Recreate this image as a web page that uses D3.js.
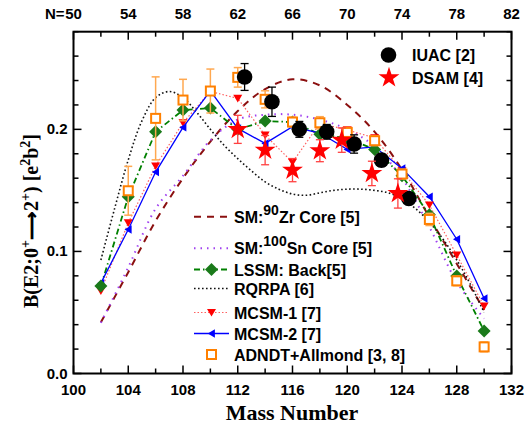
<!DOCTYPE html>
<html><head><meta charset="utf-8">
<script src="https://cdn.jsdelivr.net/npm/d3@7"></script>
<style>body{margin:0;background:#fff}svg{display:block}</style>
</head><body>
<div id="chart"></div>
<script>
// ---------------- data ----------------
const calcA = [102,104,106,108,110,112,114,116,118,120,122,124,126,128,130];
const sm90Zr  = [0.042,0.083,0.125,0.160,0.190,0.215,0.233,0.241,0.236,0.220,0.198,0.167,0.128,0.090,0.052];
const sm100Sn = [0.0415,0.087,0.135,0.162,0.191,0.208,0.212,0.212,0.208,0.200,0.186,0.160,0.120,0.075,0.045];
const lssm    = [0.0716,0.1448,0.198,0.2158,0.2175,0.200,0.2068,0.206,0.196,0.1926,0.1836,0.162,0.130,0.0798,0.0349];
const mcsm1   = [0.0677,0.1234,0.170,0.2054,0.231,0.2254,0.1953,0.173,0.205,0.1995,0.193,0.166,0.138,0.097,0.0552];
const mcsm2   = [0.074,0.118,0.165,0.2016,0.2315,0.2008,0.1885,0.2021,0.197,0.1836,0.1857,0.168,0.1448,0.110,0.0615];
const rqrpaA  = [102,103,104,105,106,107,108,109,110,111,112,113,114,115,116,117,118,119,120,121,122,123,124,125,126,127,128,129,130];
const rqrpa   = [0.093,0.135,0.175,0.207,0.226,0.231,0.226,0.214,0.200,0.187,0.176,0.166,0.157,0.151,0.147,0.146,0.148,0.150,0.151,0.151,0.150,0.148,0.143,0.135,0.124,0.110,0.093,0.073,0.050];
const adndtA   = [104,106,108,110,112,114,116,118,120,122,124,126,128,130];
const adndt    = [0.1497,0.209,0.224,0.2314,0.2426,0.2246,0.206,0.2054,0.1975,0.1907,0.1634,0.1262,0.0759,0.0218];
const adndtErr = [0.020,0.034,0.017,0.018,0.008,0.007,0.004,0.005,0.004,0.004,0.004,0.005,0.004,0.004];
const iuacA   = [112.5,114.5,116.5,118.5,120.5,122.5,124.5];
const iuac    = [0.2429,0.2226,0.200,0.198,0.188,0.1748,0.1434];
const iuacErr = [0.011,0.012,0.0065,0.006,0.0075,0.005,0.004];
const dsamA   = [112,114,116,118,119.6,121.8,123.7];
const dsam    = [0.200,0.183,0.1666,0.1825,0.1912,0.1639,0.1475];
const dsamErr = [0.0115,0.012,0.0095,0.009,0.010,0.010,0.012];
const bottomTicks = [100,104,108,112,116,120,124,128,132];
const topTickLabels = ["50","54","58","62","66","70","74","78","82"];
const yTicks = [0.0,0.1,0.2];

// ---------------- layout ----------------
const W = 529, H = 426;
const svg = d3.select("#chart").append("svg").attr("width", W).attr("height", H);
const x = d3.scaleLinear().domain([100,132]).range([73.5,511.5]);
const y = d3.scaleLinear().domain([0,0.28]).range([373.5,31.7]);
const sans = "'Liberation Sans', Arial, sans-serif";
const serif = "'Liberation Serif', 'Times New Roman', serif";

const plot = svg.append("g");

// ---------------- model lines ----------------
function calcPts(arr){ return calcA.map((a,i)=>[a,arr[i]]); }
const lineLin = d3.line().x(d=>x(d[0])).y(d=>y(d[1]));
const lineSmooth = d3.line().x(d=>x(d[0])).y(d=>y(d[1])).curve(d3.curveCatmullRom.alpha(0.5));

plot.append("path").attr("d", lineSmooth(calcPts(sm90Zr)))
  .attr("fill","none").attr("stroke","#8b1010").attr("stroke-width",2).attr("stroke-dasharray","7,6");
plot.append("path").attr("d", lineSmooth(calcPts(sm100Sn)))
  .attr("fill","none").attr("stroke","#a040f0").attr("stroke-width",2).attr("stroke-dasharray","1.5,5");
plot.append("path").attr("d", lineSmooth(rqrpaA.map((a,i)=>[a,rqrpa[i]])))
  .attr("fill","none").attr("stroke","#111").attr("stroke-width",1.6).attr("stroke-dasharray","1.6,2.4");
plot.append("path").attr("d", lineLin(calcPts(lssm)))
  .attr("fill","none").attr("stroke","#008000").attr("stroke-width",1.8).attr("stroke-dasharray","6,3,1.5,3");
plot.append("path").attr("d", lineLin(calcPts(mcsm1)))
  .attr("fill","none").attr("stroke","#ff6060").attr("stroke-width",1.2).attr("stroke-dasharray","1.5,2");
plot.append("path").attr("d", lineLin(calcPts(mcsm2)))
  .attr("fill","none").attr("stroke","#0000ff").attr("stroke-width",1.3);

// ---------------- marker shapes ----------------
const diamondPath = (s)=>`M0,${-s}L${s},0L0,${s}L${-s},0Z`;
const downTri = (s)=>`M${-s},${-s*0.8}L${s},${-s*0.8}L0,${s*0.9}Z`;
const leftTri = (s)=>`M${-s*0.9},0L${s*0.8},${-s}L${s*0.8},${s}Z`;

plot.selectAll(".m1").data(calcPts(mcsm1)).join("path")
  .attr("d", downTri(4.5)).attr("transform", d=>`translate(${x(d[0])},${y(d[1])})`)
  .attr("fill","#ff0000");
plot.selectAll(".m2").data(calcPts(mcsm2)).join("path")
  .attr("d", leftTri(4.2)).attr("transform", d=>`translate(${x(d[0])},${y(d[1])})`)
  .attr("fill","#0000ff");
plot.selectAll(".ls").data(calcPts(lssm)).join("path")
  .attr("d", diamondPath(6.5)).attr("transform", d=>`translate(${x(d[0])},${y(d[1])})`)
  .attr("fill","#1a7a1a");

function errBars(g, A, V, E, color, cap, sw){
  const data = A.map((a,i)=>({a, v:V[i], e:E[i]}));
  const gg = g.append("g").attr("stroke",color).attr("stroke-width",sw).attr("fill","none");
  gg.selectAll(".v").data(data).join("line")
    .attr("x1",d=>x(d.a)).attr("x2",d=>x(d.a)).attr("y1",d=>y(d.v-d.e)).attr("y2",d=>y(d.v+d.e));
  gg.selectAll(".t").data(data).join("line")
    .attr("x1",d=>x(d.a)-cap).attr("x2",d=>x(d.a)+cap).attr("y1",d=>y(d.v+d.e)).attr("y2",d=>y(d.v+d.e));
  gg.selectAll(".b").data(data).join("line")
    .attr("x1",d=>x(d.a)-cap).attr("x2",d=>x(d.a)+cap).attr("y1",d=>y(d.v-d.e)).attr("y2",d=>y(d.v-d.e));
}

errBars(plot, adndtA, adndt, adndtErr, "#ffa850", 4, 1.5);
plot.selectAll(".ad").data(adndtA.map((a,i)=>[a,adndt[i]])).join("rect")
  .attr("x", d=>x(d[0])-4.5).attr("y", d=>y(d[1])-4.5).attr("width",9).attr("height",9)
  .attr("fill","#fff").attr("stroke","#ff8000").attr("stroke-width",2);

errBars(plot, iuacA, iuac, iuacErr, "#000", 4, 1.3);
plot.selectAll(".iu").data(iuacA.map((a,i)=>[a,iuac[i]])).join("circle")
  .attr("cx", d=>x(d[0])).attr("cy", d=>y(d[1])).attr("r",7.8).attr("fill","#000");

errBars(plot, dsamA, dsam, dsamErr, "#ff4040", 4, 1.3);
const starSym = d3.symbol().type(d3.symbolStar).size(135);
plot.selectAll(".ds").data(dsamA.map((a,i)=>[a,dsam[i]])).join("path")
  .attr("d", starSym()).attr("transform", d=>`translate(${x(d[0])},${y(d[1])})`)
  .attr("fill","#ff0000");

// ---------------- axes ----------------
const minorX = d3.range(100,133,2);
const minorY = d3.range(0,0.2801,0.02);
const axG = svg.append("g").attr("stroke","#000").attr("stroke-width",1.5);
axG.append("rect").attr("x",x(100)).attr("y",y(0.28)).attr("width",x(132)-x(100)).attr("height",y(0)-y(0.28))
  .attr("fill","none").attr("stroke-width",2);
minorX.forEach(v=>{
  const len = (v % 4 === 0) ? 8 : 5;
  axG.append("line").attr("x1",x(v)).attr("x2",x(v)).attr("y1",y(0)).attr("y2",y(0)-len);
  axG.append("line").attr("x1",x(v)).attr("x2",x(v)).attr("y1",y(0.28)).attr("y2",y(0.28)+len);
});
minorY.forEach(v=>{
  const major = Math.abs(v*10 - Math.round(v*10)) < 1e-6;
  const len = major ? 8 : 5;
  axG.append("line").attr("x1",x(100)).attr("x2",x(100)+len).attr("y1",y(v)).attr("y2",y(v));
  axG.append("line").attr("x1",x(132)).attr("x2",x(132)-len).attr("y1",y(v)).attr("y2",y(v));
});

const tl = svg.append("g").attr("font-family",sans).attr("font-weight","bold").attr("font-size",15).attr("fill","#000");
tl.selectAll(".bx").data(bottomTicks).join("text")
  .attr("x",d=>x(d)).attr("y",395).attr("text-anchor","middle").text(d=>d);
tl.selectAll(".tx").data(bottomTicks).join("text")
  .attr("x",d=>x(d)).attr("y",19).attr("text-anchor","middle").text((d,i)=>topTickLabels[i]);
tl.append("text").attr("x",x(100)-9).attr("y",19).attr("text-anchor","end").text("N=");
tl.selectAll(".yl").data(yTicks).join("text")
  .attr("x",x(100)-6).attr("y",d=>y(d)+5).attr("text-anchor","end").text(d=>d.toFixed(1));

svg.append("text").attr("x",292).attr("y",420).attr("text-anchor","middle")
  .attr("font-family",serif).attr("font-weight","bold").attr("font-size",22).text("Mass Number");
const yt = svg.append("text").attr("transform","translate(38,221) rotate(-90)").attr("text-anchor","middle")
  .attr("font-family",serif).attr("font-weight","bold").attr("font-size",20);
yt.append("tspan").text("B(E2;0");
yt.append("tspan").attr("dy",-8).attr("font-size",14).text("+");
yt.append("tspan").attr("dy",8).text("\u27F62");
yt.append("tspan").attr("dy",-8).attr("font-size",14).text("+");
yt.append("tspan").attr("dy",8).text(") [e");
yt.append("tspan").attr("dy",-8).attr("font-size",14).text("2");
yt.append("tspan").attr("dy",8).text("b");
yt.append("tspan").attr("dy",-8).attr("font-size",14).text("2");
yt.append("tspan").attr("dy",8).text("]");

// ---------------- legends ----------------
const lg = svg.append("g").attr("font-family",sans).attr("font-weight","bold").attr("font-size",16);
lg.append("circle").attr("cx",388.5).attr("cy",55).attr("r",7.8).attr("fill","#000");
lg.append("text").attr("x",412).attr("y",61).text("IUAC [2]");
lg.append("path").attr("d",starSym()).attr("transform","translate(389,77.7)").attr("fill","#ff0000");
lg.append("text").attr("x",412).attr("y",83.5).text("DSAM [4]");

const lx1 = 194, lx2 = 229, tx = 234;
function legLine(yy, stroke, sw, dash){
  const l = lg.append("line").attr("x1",lx1).attr("x2",lx2).attr("y1",yy).attr("y2",yy)
    .attr("stroke",stroke).attr("stroke-width",sw);
  if (dash) l.attr("stroke-dasharray",dash);
}
legLine(216.7,"#8b1010",2,"7,6");
let t = lg.append("text").attr("x",tx).attr("y",222.5);
t.append("tspan").text("SM:"); t.append("tspan").attr("dy",-8).attr("font-size",14).text("90");
t.append("tspan").attr("dy",8).text("Zr Core [5]");
legLine(248.3,"#a040f0",2,"1.5,5");
t = lg.append("text").attr("x",tx).attr("y",254);
t.append("tspan").text("SM:"); t.append("tspan").attr("dy",-8).attr("font-size",14).text("100");
t.append("tspan").attr("dy",8).text("Sn Core [5]");
legLine(269.5,"#008000",1.8,"6,3,1.5,3");
lg.append("path").attr("d",diamondPath(6.5)).attr("transform","translate(211.5,269.5)").attr("fill","#1a7a1a");
lg.append("text").attr("x",tx).attr("y",275.5).text("LSSM: Back[5]");
legLine(288.5,"#111",1.6,"1.6,2.4");
lg.append("text").attr("x",tx).attr("y",294.5).text("RQRPA [6]");
legLine(312.5,"#ff6060",1.2,"1.5,2");
lg.append("path").attr("d",downTri(4.5)).attr("transform","translate(211.5,312.5)").attr("fill","#ff0000");
lg.append("text").attr("x",tx).attr("y",318.5).text("MCSM-1 [7]");
legLine(333.5,"#0000ff",1.3,null);
lg.append("path").attr("d",leftTri(4.2)).attr("transform","translate(211.5,333.5)").attr("fill","#0000ff");
lg.append("text").attr("x",tx).attr("y",339.5).text("MCSM-2 [7]");
lg.append("rect").attr("x",207).attr("y",350).attr("width",9).attr("height",9)
  .attr("fill","#fff").attr("stroke","#ff8000").attr("stroke-width",2);
lg.append("text").attr("x",tx).attr("y",360.5).text("ADNDT+Allmond [3, 8]");
</script>
</body></html>
